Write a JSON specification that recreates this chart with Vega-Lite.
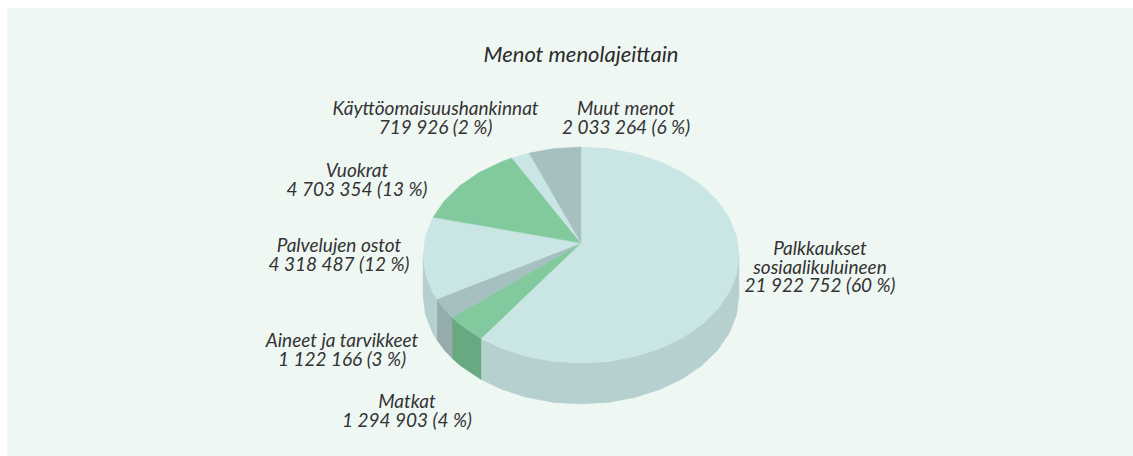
{"$schema":"https://vega.github.io/schema/vega-lite/v6.json","width":1126,"height":448,"autosize":"none","padding":{"left":7,"top":8,"right":0,"bottom":0},"background":"#ffffff","view":{"fill":"#eff7f3","stroke":null},
"title":{"text":"Menot menolajeittain","font":"Lato","fontStyle":"italic","fontWeight":"normal","fontSize":22,"color":"#2b2b2b","anchor":"middle","baseline":"middle","dx":11,"offset":-69},
"layer":[
{"data":{"values":[
{"p":"Palkkaukset reuna","o":1,"x":158,"y":-12},{"p":"Palkkaukset reuna","o":2,"x":155.6,"y":-30.8},{"p":"Palkkaukset reuna","o":3,"x":148.5,"y":-48.9},{"p":"Palkkaukset reuna","o":4,"x":136.8,"y":-66},{"p":"Palkkaukset reuna","o":5,"x":121,"y":-81.4},{"p":"Palkkaukset reuna","o":6,"x":101.6,"y":-94.7},{"p":"Palkkaukset reuna","o":7,"x":79,"y":-105.5},{"p":"Palkkaukset reuna","o":8,"x":54,"y":-113.5},{"p":"Palkkaukset reuna","o":9,"x":27.4,"y":-118.4},{"p":"Palkkaukset reuna","o":10,"x":0,"y":-120},{"p":"Palkkaukset reuna","o":11,"x":-27.4,"y":-118.4},{"p":"Palkkaukset reuna","o":12,"x":-54,"y":-113.5},{"p":"Palkkaukset reuna","o":13,"x":-79,"y":-105.5},{"p":"Palkkaukset reuna","o":14,"x":-100,"y":-95.6},
{"p":"Palkkaukset reuna","o":15,"x":-100,"y":-136.6},{"p":"Palkkaukset reuna","o":16,"x":-79,"y":-146.5},{"p":"Palkkaukset reuna","o":17,"x":-54,"y":-154.5},{"p":"Palkkaukset reuna","o":18,"x":-27.4,"y":-159.4},{"p":"Palkkaukset reuna","o":19,"x":0,"y":-161},{"p":"Palkkaukset reuna","o":20,"x":27.4,"y":-159.4},{"p":"Palkkaukset reuna","o":21,"x":54,"y":-154.5},{"p":"Palkkaukset reuna","o":22,"x":79,"y":-146.5},{"p":"Palkkaukset reuna","o":23,"x":101.6,"y":-135.7},{"p":"Palkkaukset reuna","o":24,"x":121,"y":-122.4},{"p":"Palkkaukset reuna","o":25,"x":136.8,"y":-107},{"p":"Palkkaukset reuna","o":26,"x":148.5,"y":-89.9},{"p":"Palkkaukset reuna","o":27,"x":155.6,"y":-71.8},{"p":"Palkkaukset reuna","o":28,"x":158,"y":-53},
{"p":"Matkat reuna","o":1,"x":-100,"y":-95.6},{"p":"Matkat reuna","o":2,"x":-121,"y":-81.4},{"p":"Matkat reuna","o":3,"x":-129,"y":-74.3},{"p":"Matkat reuna","o":4,"x":-129,"y":-115.3},{"p":"Matkat reuna","o":5,"x":-121,"y":-122.4},{"p":"Matkat reuna","o":6,"x":-100,"y":-136.6},
{"p":"Aineet reuna","o":1,"x":-129,"y":-74.3},{"p":"Aineet reuna","o":2,"x":-136.8,"y":-66},{"p":"Aineet reuna","o":3,"x":-144,"y":-56},{"p":"Aineet reuna","o":4,"x":-144,"y":-97},{"p":"Aineet reuna","o":5,"x":-136.8,"y":-107},{"p":"Aineet reuna","o":6,"x":-129,"y":-115.3},
{"p":"Palvelut reuna","o":1,"x":-144,"y":-56},{"p":"Palvelut reuna","o":2,"x":-148.5,"y":-48.9},{"p":"Palvelut reuna","o":3,"x":-155.6,"y":-30.8},{"p":"Palvelut reuna","o":4,"x":-158,"y":-12},{"p":"Palvelut reuna","o":5,"x":-158,"y":-53},{"p":"Palvelut reuna","o":6,"x":-155.6,"y":-71.8},{"p":"Palvelut reuna","o":7,"x":-148.5,"y":-89.9},{"p":"Palvelut reuna","o":8,"x":-144,"y":-97},
{"p":"Palkkaukset","o":0,"x":0,"y":0},{"p":"Palkkaukset","o":1,"x":0,"y":96},{"p":"Palkkaukset","o":2,"x":27.4,"y":94.4},{"p":"Palkkaukset","o":3,"x":54,"y":89.5},{"p":"Palkkaukset","o":4,"x":79,"y":81.5},{"p":"Palkkaukset","o":5,"x":101.6,"y":70.7},{"p":"Palkkaukset","o":6,"x":121,"y":57.4},{"p":"Palkkaukset","o":7,"x":136.8,"y":42},{"p":"Palkkaukset","o":8,"x":148.5,"y":24.9},{"p":"Palkkaukset","o":9,"x":155.6,"y":6.8},{"p":"Palkkaukset","o":10,"x":158,"y":-12},{"p":"Palkkaukset","o":11,"x":155.6,"y":-30.8},{"p":"Palkkaukset","o":12,"x":148.5,"y":-48.9},{"p":"Palkkaukset","o":13,"x":136.8,"y":-66},{"p":"Palkkaukset","o":14,"x":121,"y":-81.4},{"p":"Palkkaukset","o":15,"x":101.6,"y":-94.7},{"p":"Palkkaukset","o":16,"x":79,"y":-105.5},{"p":"Palkkaukset","o":17,"x":54,"y":-113.5},{"p":"Palkkaukset","o":18,"x":27.4,"y":-118.4},{"p":"Palkkaukset","o":19,"x":0,"y":-120},{"p":"Palkkaukset","o":20,"x":-27.4,"y":-118.4},{"p":"Palkkaukset","o":21,"x":-54,"y":-113.5},{"p":"Palkkaukset","o":22,"x":-79,"y":-105.5},{"p":"Palkkaukset","o":23,"x":-100,"y":-95.6},
{"p":"Matkat","o":0,"x":0,"y":0},{"p":"Matkat","o":1,"x":-100,"y":-95.6},{"p":"Matkat","o":2,"x":-121,"y":-81.4},{"p":"Matkat","o":3,"x":-129,"y":-74.3},
{"p":"Aineet","o":0,"x":0,"y":0},{"p":"Aineet","o":1,"x":-129,"y":-74.3},{"p":"Aineet","o":2,"x":-136.8,"y":-66},{"p":"Aineet","o":3,"x":-144,"y":-56},
{"p":"Palvelut","o":0,"x":0,"y":0},{"p":"Palvelut","o":1,"x":-144,"y":-56},{"p":"Palvelut","o":2,"x":-148.5,"y":-48.9},{"p":"Palvelut","o":3,"x":-155.6,"y":-30.8},{"p":"Palvelut","o":4,"x":-158,"y":-12},{"p":"Palvelut","o":5,"x":-155.6,"y":6.8},{"p":"Palvelut","o":6,"x":-148,"y":25.8},
{"p":"Vuokrat","o":0,"x":0,"y":0},{"p":"Vuokrat","o":1,"x":-148,"y":25.8},{"p":"Vuokrat","o":2,"x":-136.8,"y":42},{"p":"Vuokrat","o":3,"x":-121,"y":57.4},{"p":"Vuokrat","o":4,"x":-101.6,"y":70.7},{"p":"Vuokrat","o":5,"x":-79,"y":81.5},{"p":"Vuokrat","o":6,"x":-69,"y":85.1},
{"p":"Käyttöomaisuus","o":0,"x":0,"y":0},{"p":"Käyttöomaisuus","o":1,"x":-69,"y":85.1},{"p":"Käyttöomaisuus","o":2,"x":-52,"y":90},
{"p":"Muut","o":0,"x":0,"y":0},{"p":"Muut","o":1,"x":-52,"y":90},{"p":"Muut","o":2,"x":-27.4,"y":94.4},{"p":"Muut","o":3,"x":0,"y":96}
]},
"mark":{"type":"line","strokeWidth":0.4,"interpolate":"linear-closed"},
"encoding":{
"x":{"field":"x","type":"quantitative","scale":{"domain":[-574,552]},"axis":null},
"y":{"field":"y","type":"quantitative","scale":{"domain":[-213,235]},"axis":null},
"order":{"field":"o","type":"quantitative"},
"fill":{"field":"p","type":"nominal","legend":null,"scale":{"domain":["Palkkaukset reuna","Matkat reuna","Aineet reuna","Palvelut reuna","Palkkaukset","Matkat","Aineet","Palvelut","Vuokrat","Käyttöomaisuus","Muut"],"range":["#b5d0cf","#69a981","#96abad","#b5d0cf","#c9e6e5","#83c99e","#a6bfc1","#c9e6e5","#83c99e","#c9e6e5","#a6bfc1"]}},
"stroke":{"field":"p","type":"nominal","legend":null,"scale":{"domain":["Palkkaukset reuna","Matkat reuna","Aineet reuna","Palvelut reuna","Palkkaukset","Matkat","Aineet","Palvelut","Vuokrat","Käyttöomaisuus","Muut"],"range":["#b5d0cf","#69a981","#96abad","#b5d0cf","#c9e6e5","#83c99e","#a6bfc1","#c9e6e5","#83c99e","#c9e6e5","#a6bfc1"]}}
}},
{"data":{"values":[
{"label":"Käyttöomaisuushankinnat\n719 926 (2 %)","x":-145.5,"y":134},
{"label":"Muut menot\n2 033 264 (6 %)","x":45,"y":134},
{"label":"Vuokrat\n4 703 354 (13 %)","x":-224,"y":72},
{"label":"Palvelujen ostot\n4 318 487 (12 %)","x":-242,"y":-3},
{"label":"Palkkaukset\nsosiaalikuluineen\n21 922 752 (60 %)","x":239,"y":-6},
{"label":"Aineet ja tarvikkeet\n1 122 166 (3 %)","x":-239,"y":-98},
{"label":"Matkat\n1 294 903 (4 %)","x":-174,"y":-159}
]},
"mark":{"type":"text","font":"Lato","fontStyle":"italic","fontSize":19,"lineHeight":18.5,"lineBreak":"\n","align":"center","baseline":"middle","color":"#333333"},
"encoding":{
"x":{"field":"x","type":"quantitative","scale":{"domain":[-574,552]},"axis":null},
"y":{"field":"y","type":"quantitative","scale":{"domain":[-213,235]},"axis":null},
"text":{"field":"label"}
}}
],
"resolve":{"scale":{"fill":"independent","stroke":"independent"}}}
